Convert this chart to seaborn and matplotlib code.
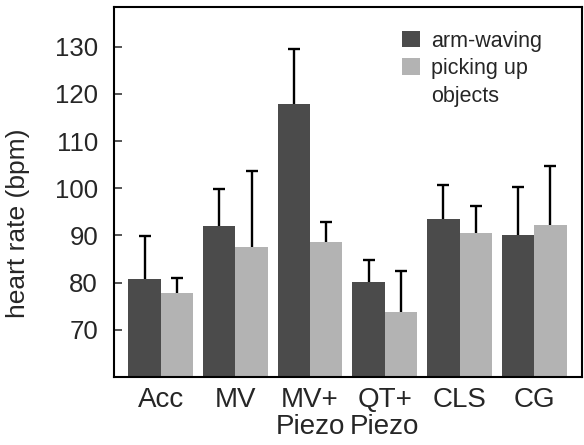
import matplotlib
matplotlib.use("Agg")
import matplotlib.pyplot as plt
import seaborn as sns
import pandas as pd
import numpy as np
from matplotlib.patches import Patch

categories = ["Acc", "MV", "MV+\nPiezo", "QT+\nPiezo", "CLS", "CG"]
activities = ["arm-waving", "picking up objects"]
arm_waving = [80.8, 92.1, 117.8, 80.1, 93.5, 90.1]
picking_up = [77.8, 87.5, 88.7, 73.7, 90.5, 92.3]
arm_waving_err = [9.0, 7.8, 11.8, 4.7, 7.2, 10.2]
picking_up_err = [3.2, 16.1, 4.1, 8.8, 5.7, 12.4]
yticks = [70, 80, 90, 100, 110, 120, 130]

dark = "#4b4b4b"
light = "#b3b3b3"

df = pd.DataFrame({
    "sensor": categories * 2,
    "hr": arm_waving + picking_up,
    "activity": [activities[0]] * len(categories) + [activities[1]] * len(categories),
})

sns.set_style("white")
plt.rcParams["font.family"] = ["Liberation Sans", "DejaVu Sans"]

fig = plt.figure(figsize=(5.84, 4.45), dpi=100)
ax = fig.add_axes([0.1952, 0.1528, 0.8014, 0.8322])

sns.barplot(data=df, x="sensor", y="hr", hue="activity", order=categories,
            hue_order=activities, palette=[dark, light], width=0.865,
            errorbar=None, saturation=1, linewidth=0, legend=False, ax=ax)

errs = [arm_waving_err, picking_up_err]
for cont, err in zip(ax.containers, errs):
    xs = [p.get_x() + p.get_width() / 2 for p in cont.patches]
    hs = [p.get_height() for p in cont.patches]
    _, caps, _ = ax.errorbar(xs, hs, yerr=[np.zeros(len(err)), err], fmt="none",
                             ecolor="black", elinewidth=1.7, capsize=4.4,
                             capthick=1.7, zorder=3)
    # keep only the upper caps
    for c in caps:
        if np.allclose(c.get_ydata(), hs):
            c.set_visible(False)

ax.set_ylim(60, 138.5)
ax.set_xlim(-0.625, 5.64)
ax.set_yticks(yticks)
ax.set_yticklabels([str(t) for t in yticks], fontsize=18.5)
ax.tick_params(axis="y", direction="in", length=5.5, width=1.1, pad=11.5, left=True)
ax.tick_params(axis="x", length=0, pad=7, labelsize=20)
for lab in ax.get_xticklabels():
    lab.set_linespacing(1.05)
ax.set_xlabel("")
ax.set_ylabel("heart rate (bpm)", fontsize=19)
ax.yaxis.set_label_coords(-0.18, 0.415)

for s in ax.spines.values():
    s.set_visible(True)
    s.set_color("black")
    s.set_linewidth(1.5)

handles = [Patch(facecolor=dark, edgecolor="none"),
           Patch(facecolor=light, edgecolor="none"),
           Patch(facecolor="none", edgecolor="none")]
labels = ["arm-waving", "picking up", "objects"]
ax.legend(handles, labels, loc="upper left", bbox_to_anchor=(0.615, 0.935),
          frameon=False, fontsize=15.5, handlelength=0.85, handleheight=0.8,
          handletextpad=0.5, labelspacing=0.3, borderpad=0, borderaxespad=0)

fig.savefig("out.png", dpi=100)
